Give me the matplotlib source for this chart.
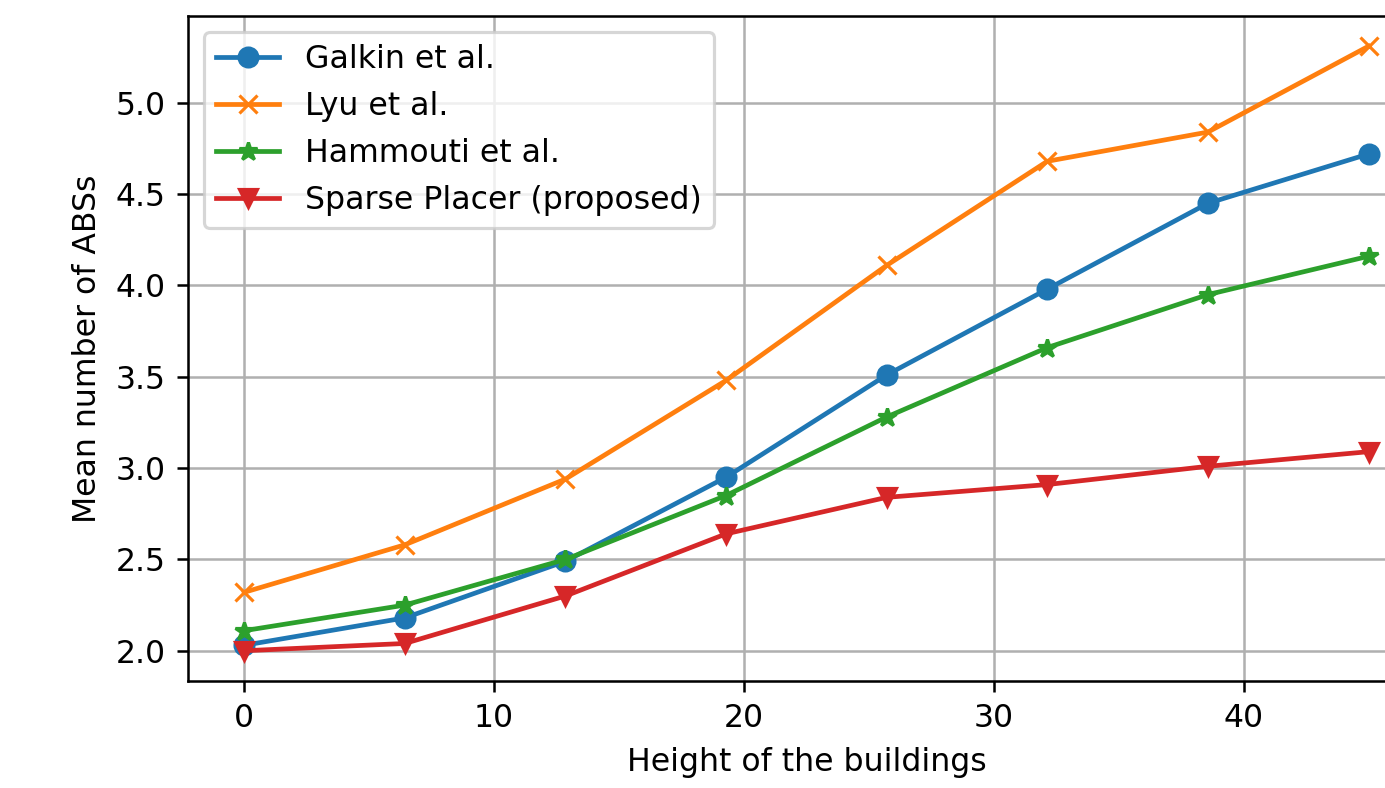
import numpy as np
import matplotlib.pyplot as plt

heights = np.linspace(0, 45, 8)
galkin = [2.03, 2.18, 2.49, 2.95, 3.51, 3.98, 4.45, 4.72]
lyu = [2.32, 2.58, 2.94, 3.48, 4.11, 4.68, 4.84, 5.31]
hammouti = [2.11, 2.25, 2.50, 2.85, 3.28, 3.66, 3.95, 4.16]
sparse = [2.00, 2.04, 2.30, 2.64, 2.84, 2.91, 3.01, 3.09]

dpi = 227
fig = plt.figure(figsize=(1385 / dpi, 788 / dpi), dpi=dpi)
ax = fig.add_axes([0.1357, 0.1358, 0.893, 0.8439])

ax.plot(heights, galkin, marker="o", label="Galkin et al.")
ax.plot(heights, lyu, marker="x", label="Lyu et al.")
ax.plot(heights, hammouti, marker="*", label="Hammouti et al.")
ax.plot(heights, sparse, marker="v", label="Sparse Placer (proposed)")

ax.set_xlabel("Height of the buildings")
ax.set_ylabel("Mean number of ABSs")
ax.grid(True)
ax.legend(loc="upper left")

fig.savefig("out.png", dpi=dpi)
